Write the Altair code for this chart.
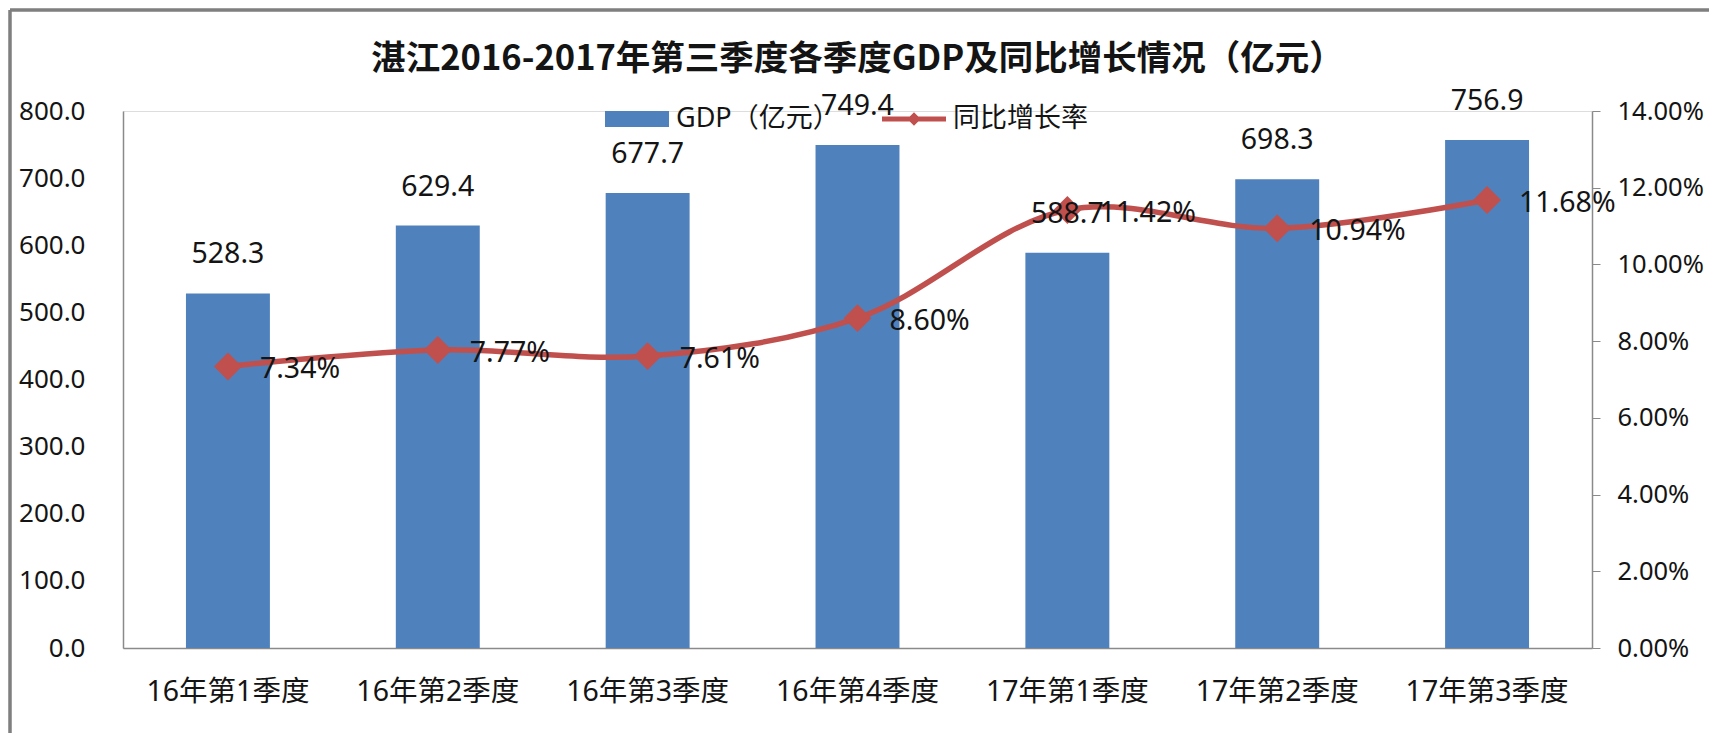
import altair as alt
import pandas as pd

categories = ["16年第1季度", "16年第2季度", "16年第3季度", "16年第4季度",
              "17年第1季度", "17年第2季度", "17年第3季度"]
gdp = [528.3, 629.4, 677.7, 749.4, 588.7, 698.3, 756.9]
rate = [0.0734, 0.0777, 0.0761, 0.0860, 0.1142, 0.1094, 0.1168]
series_names = ["GDP（亿元）", "同比增长率"]
series_colors = ["#4F81BD", "#C0504D"]

df = pd.DataFrame({"cat": categories, "gdp": gdp, "rate": rate})
legend_df = pd.DataFrame({"series": series_names})

FONT = "Noto Sans, Noto Sans CJK SC"
TXT = "#141414"
AXC = "#8a8a8a"

x_enc = alt.X("cat:N", sort=categories, title=None,
              scale=alt.Scale(paddingInner=0.6, paddingOuter=0.3),
              axis=alt.Axis(labelAngle=0, labelFontSize=28.5, labelFont=FONT, labelColor=TXT,
                            ticks=False, tickSize=0, labelPadding=29.5, domainColor=AXC,
                            domainWidth=1.5, grid=False, labelLimit=400))

left_scale = alt.Scale(domain=[0, 800], nice=False, zero=True)
right_scale = alt.Scale(domain=[0, 0.14], nice=False, zero=True)

y_left = alt.Y("gdp:Q", title=None, scale=left_scale,
               axis=alt.Axis(orient="left", values=list(range(0, 801, 100)), format=".1f",
                             labelFontSize=26, labelFont=FONT, labelColor=TXT,
                             ticks=False, tickSize=0, labelPadding=38, domainColor=AXC,
                             domainWidth=1.5, grid=False))
y_left_noaxis = alt.Y("gdp:Q", title=None, scale=left_scale, axis=None)

y_right = alt.Y("rate:Q", title=None, scale=right_scale,
                axis=alt.Axis(orient="right", values=[0, 0.02, 0.04, 0.06, 0.08, 0.10, 0.12, 0.14],
                              format=".2%", labelFontSize=25.5, labelFont=FONT, labelColor=TXT,
                              ticks=True, tickSize=8, tickColor=AXC, labelPadding=17,
                              domainColor=AXC, domainWidth=1.5, grid=False))
y_right_noaxis = alt.Y("rate:Q", title=None, scale=right_scale, axis=None)

base = alt.Chart(df)

bars = base.mark_bar(color="#4F81BD").encode(x=x_enc, y=y_left)
line = base.mark_line(color="#C0504D", strokeWidth=5.5, interpolate="catmull-rom").encode(
    x=x_enc, y=y_right_noaxis)
points = base.mark_point(shape="diamond", filled=True, size=780, color="#C0504D",
                         opacity=1).encode(x=x_enc, y=y_right)
bar_labels = base.mark_text(dy=-39, fontSize=28.5, font=FONT, color=TXT).encode(
    x=x_enc, y=y_left_noaxis, text=alt.Text("gdp:Q", format=".1f"))
rate_labels = base.mark_text(align="left", dx=32, dy=3, fontSize=28.5, font=FONT,
                             color=TXT).encode(
    x=x_enc, y=y_right_noaxis, text=alt.Text("rate:Q", format=".2%"))

gdp_sym = "M-1,-0.25 L1,-0.25 L1,0.25 L-1,0.25 Z"
rate_sym = "M-1,-0.075 L1,-0.075 L1,0.075 L-1,0.075 Z M0,-0.21 L0.21,0 L0,0.21 L-0.21,0 Z"

leg = alt.Legend(title=None, orient="none", legendX=482, legendY=-24, direction="horizontal",
                 labelFontSize=27, labelFont=FONT, labelColor=TXT, symbolSize=4096,
                 labelOffset=7, columnPadding=42, padding=0, symbolStrokeWidth=0,
                 labelLimit=400)

legend_layer = alt.Chart(legend_df).mark_point(filled=True, opacity=1).encode(
    color=alt.Color("series:N", scale=alt.Scale(domain=series_names, range=series_colors),
                    legend=leg),
    shape=alt.Shape("series:N", scale=alt.Scale(domain=series_names, range=[gdp_sym, rate_sym]),
                    legend=leg),
).transform_filter("false")

frame_top = alt.Chart(legend_df).mark_rule(stroke="#7f7f7f", strokeWidth=3).encode(
    x=alt.value(-113), x2=alt.value(1590), y=alt.value(-101))
frame_left = alt.Chart(legend_df).mark_rule(stroke="#7f7f7f", strokeWidth=3).encode(
    x=alt.value(-113), y=alt.value(-101), y2=alt.value(630))

chart = alt.layer(frame_top, frame_left, bars, line, points, bar_labels, rate_labels,
                  legend_layer).resolve_scale(
    y="independent"
).properties(
    width=1469, height=537,
    autosize=alt.AutoSizeParams(type="none"),
    padding={"left": 115, "top": 103, "right": 117, "bottom": 85},
    title=alt.TitleParams(
        text="湛江2016-2017年第三季度各季度GDP及同比增长情况（亿元）",
        font="Noto Sans CJK SC", fontSize=34.5, fontWeight="bold", color=TXT,
        anchor="middle", frame="group", offset=-69),
).configure_view(stroke=None).configure(background="white")

chart.save("out.html", embed_options={"renderer": "svg", "actions": False})
